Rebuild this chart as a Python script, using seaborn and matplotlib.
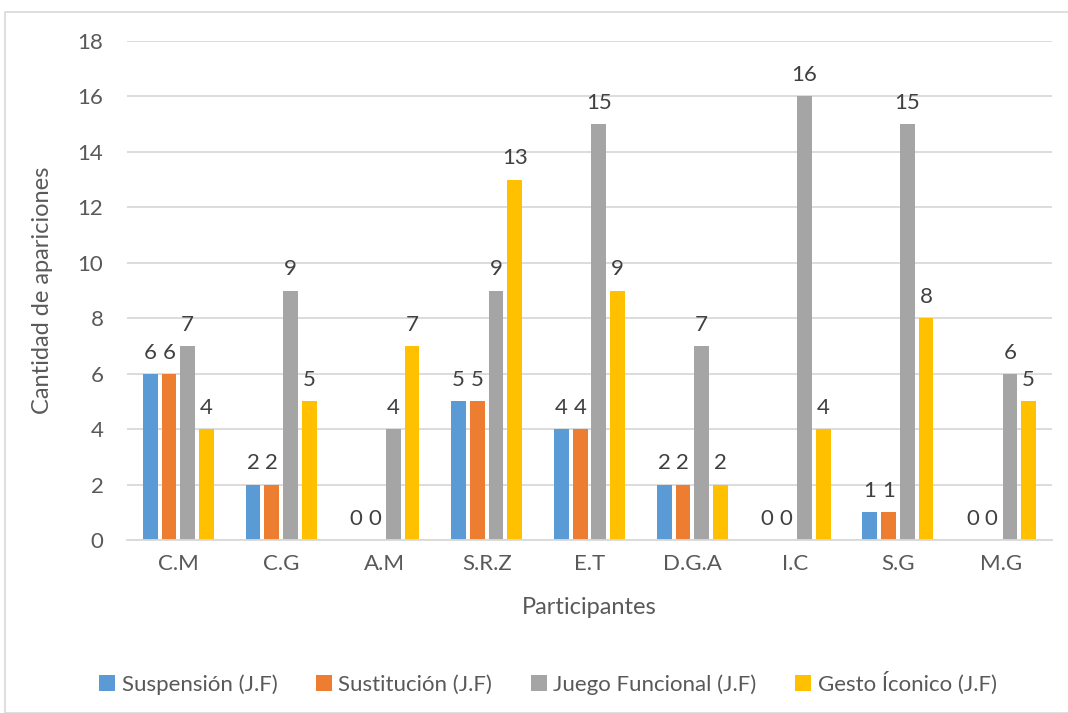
import matplotlib
matplotlib.use("Agg")
import matplotlib.pyplot as plt
from matplotlib.patches import Rectangle, Patch
import seaborn as sns
import pandas as pd

participantes = ["C.M", "C.G", "A.M", "S.R.Z", "E.T", "D.G.A", "I.C", "S.G", "M.G"]
series = ["Suspensión (J.F)", "Sustitución (J.F)", "Juego Funcional (J.F)", "Gesto Íconico (J.F)"]
suspension = [6, 2, 0, 5, 4, 2, 0, 1, 0]
sustitucion = [6, 2, 0, 5, 4, 2, 0, 1, 0]
juego_funcional = [7, 9, 4, 9, 15, 7, 16, 15, 6]
gesto_iconico = [4, 5, 7, 13, 9, 2, 4, 8, 5]
colores = ["#5B9BD5", "#ED7D31", "#A5A5A5", "#FFC000"]

valores = [suspension, sustitucion, juego_funcional, gesto_iconico]
df = pd.DataFrame(
    [(p, s, v) for s, vals in zip(series, valores) for p, v in zip(participantes, vals)],
    columns=["Participantes", "Serie", "Cantidad"],
)

sns.set_theme(style="white")
plt.rcParams["font.family"] = ["Lato", "DejaVu Sans"]
texto = "#595959"
grid = "#D9D9D9"

fig = plt.figure(figsize=(10.68, 7.13), dpi=100)
W, H = 1068, 713
ax = fig.add_axes([127 / W, 1 - 540 / H, (1052 - 127) / W, (540 - 41) / H])

sns.barplot(
    data=df, x="Participantes", y="Cantidad", hue="Serie",
    order=participantes, hue_order=series, palette=colores,
    width=0.728, gap=0.21, saturation=1, legend=False, linewidth=0, ax=ax,
)

ax.set_ylim(0, 18)
ax.set_yticks(range(0, 19, 2))
ax.set_xlim(-0.5, len(participantes) - 0.5)
ax.yaxis.grid(True, color=grid, linewidth=1.3)
ax.set_axisbelow(True)
for side in ["top", "right", "left"]:
    ax.spines[side].set_visible(False)
ax.spines["bottom"].set_color(grid)
ax.spines["bottom"].set_linewidth(1.3)
ax.tick_params(axis="both", length=0, colors=texto, labelsize=16)
ax.tick_params(axis="y", pad=17)
ax.tick_params(axis="x", pad=10)

for cont in ax.containers:
    ax.bar_label(cont, labels=[f"{int(v)}" for v in cont.datavalues],
                 padding=8, fontsize=16, color="#404040")

ax.set_xlabel("Participantes", fontsize=17, color=texto, labelpad=17)
ax.set_ylabel("Cantidad de apariciones", fontsize=17, color=texto, labelpad=18)

handles = [Patch(facecolor=c, edgecolor="none") for c in colores]
fig.legend(handles, series, loc="center", bbox_to_anchor=(548 / W, 1 - 683 / H),
           ncol=4, frameon=False, fontsize=16, labelcolor=texto,
           handlelength=0.7, handleheight=0.7, handletextpad=0.3, columnspacing=1.75)

fig.patches.append(Rectangle((5.5 / W, 0), 1, 1 - 11.5 / H, transform=fig.transFigure,
                             fill=False, edgecolor="#D9D9D9", linewidth=1.2))

fig.savefig("out.png", dpi=100, facecolor="white")
